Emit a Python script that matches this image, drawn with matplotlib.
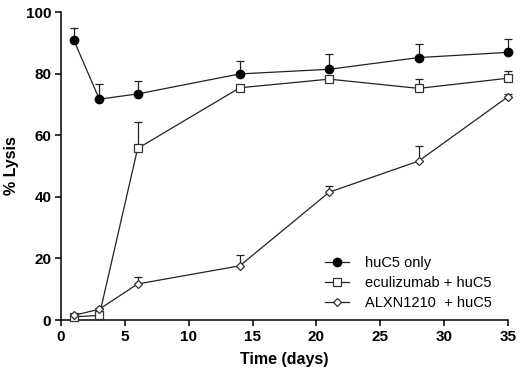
import matplotlib
matplotlib.use("Agg")
import matplotlib.pyplot as plt
from matplotlib.lines import Line2D
import numpy as np

plt.rcParams['font.family'] = ['Liberation Sans', 'DejaVu Sans']

days = [1, 3, 6, 14, 21, 28, 35]
huc5_only = [90.9, 71.7, 73.4, 79.9, 81.4, 85.2, 86.9]
huc5_only_err = [4.0, 4.8, 4.2, 4.3, 4.9, 4.4, 4.3]
eculizumab = [1.0, 1.5, 55.7, 75.4, 78.2, 75.2, 78.5]
eculizumab_err = [0.5, 0.5, 8.7, 0.8, 0.8, 3.0, 2.3]
alxn1210 = [1.5, 3.5, 11.7, 17.6, 41.5, 51.6, 72.5]
alxn1210_err = [0.5, 0.5, 2.2, 3.5, 2.0, 4.9, 1.0]

labels = ["huC5 only", "eculizumab + huC5", "ALXN1210  + huC5"]
xticks = [0, 5, 10, 15, 20, 25, 30, 35]
yticks = [0, 20, 40, 60, 80, 100]

fig = plt.figure(figsize=(5.23, 3.73), dpi=100)
ax = fig.add_axes([61/523, 1-320/373, (508-61)/523, (320-12)/373])

series = [
    (huc5_only, huc5_only_err, dict(marker='o', mfc='black', mec='black', ms=6)),
    (eculizumab, eculizumab_err, dict(marker='s', mfc='white', mec='#333333', ms=6.2, mew=0.9)),
    (alxn1210, alxn1210_err, dict(marker='D', mfc='white', mec='#333333', ms=4.2, mew=0.9)),
]
handles = []
for (vals, err, st), lab in zip(series, labels):
    yerr = [np.zeros(len(err)), err]
    ax.errorbar(days, vals, yerr=yerr, color='#222222', lw=0.9, elinewidth=0.9,
                capsize=3.2, capthick=0.9, clip_on=False, zorder=3, **st)
    handles.append(Line2D([], [], color='#222222', lw=0.9, label=lab, **st))

ax.set_xlim(0, 35)
ax.set_ylim(0, 100)
ax.set_xticks(xticks)
ax.set_yticks(yticks)
for s in ['top', 'right']:
    ax.spines[s].set_visible(False)
for s in ['left', 'bottom']:
    ax.spines[s].set_linewidth(1.1)
ax.tick_params(direction='out', length=4, width=1.1, labelsize=11, pad=3)
for t in ax.get_xticklabels() + ax.get_yticklabels():
    t.set_fontweight('bold')
ax.set_xlabel("Time (days)", fontsize=11.5, fontweight='bold', labelpad=6)
ax.set_ylabel("% Lysis", fontsize=11.5, fontweight='bold', labelpad=5)

leg = ax.legend(handles=handles, loc='center left', bbox_to_anchor=((325-61)/447, (320-283)/308),
                frameon=False, fontsize=10.5, handlelength=1.65, handletextpad=1.1,
                labelspacing=0.42, borderpad=0, borderaxespad=0)

fig.savefig("out.png", dpi=100)
